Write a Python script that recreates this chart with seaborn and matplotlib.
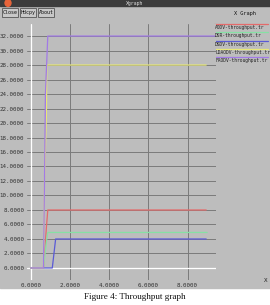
import matplotlib
matplotlib.use("Agg")
import matplotlib.pyplot as plt
import seaborn as sns
import pandas as pd
from matplotlib.patches import Rectangle, Circle
from matplotlib.lines import Line2D

# ---------------------------------------------------------------------------
# Data
# ---------------------------------------------------------------------------
series_names = [
    "AODV-throughput.tr",
    "DSR-throughput.tr",
    "DSDV-throughput.tr",
    "LDAODV-throughput.tr",
    "FAODV-throughput.tr",
]
series_colors = ["#e46a6a", "#86e0a4", "#5a5ad6", "#e8e878", "#a27ae6"]

aodv_t = [0.0, 0.65, 0.80, 0.87, 8.95]
aodv_y = [0.0, 0.0, 5.6, 8.0, 8.0]

dsr_t = [0.0, 0.65, 0.80, 0.87, 9.0]
dsr_y = [0.0, 0.0, 3.6, 4.9, 4.9]

dsdv_t = [0.0, 1.10, 1.27, 8.95]
dsdv_y = [0.0, 0.0, 4.0, 4.0]

ldaodv_t = [0.0, 0.65, 0.70, 0.80, 0.82, 8.95]
ldaodv_y = [0.0, 0.0, 12.0, 21.0, 28.0, 28.0]

faodv_t = [0.0, 0.65, 0.72, 0.75, 0.87, 9.4]
faodv_y = [0.0, 0.0, 16.0, 24.0, 32.0, 32.0]

x_ticks = [0, 2, 4, 6, 8]
y_ticks = list(range(0, 33, 2))
x_tick_labels = [f"{v:.4f}" for v in x_ticks]
y_tick_labels = [f"{v:.4f}" for v in y_ticks]

caption = "Figure 4: Throughput graph"

# ---------------------------------------------------------------------------
# Build long table
# ---------------------------------------------------------------------------
frames = []
for name, t, y in zip(series_names,
                      [aodv_t, dsr_t, dsdv_t, ldaodv_t, faodv_t],
                      [aodv_y, dsr_y, dsdv_y, ldaodv_y, faodv_y]):
    frames.append(pd.DataFrame({"time": t, "throughput": y, "trace": name}))
df = pd.concat(frames, ignore_index=True)

# ---------------------------------------------------------------------------
# Figure
# ---------------------------------------------------------------------------
sns.set_style("white")
W, H = 270, 305
fig = plt.figure(figsize=(W / 100, H / 100), dpi=100)
fig.patch.set_facecolor("white")

bg = "#bdbdbd"
mono = ["DejaVu Sans Mono"]

def fx(px):
    return px / W

def fy(py):
    return 1 - py / H

# window body and title bar
fig.patches.append(Rectangle((0, fy(288)), 1, fy(6) - fy(288),
                             transform=fig.transFigure, color=bg, zorder=-2))
fig.patches.append(Rectangle((0, fy(6)), 1, fy(0) - fy(6),
                             transform=fig.transFigure, color="#3c3c3c", zorder=-2))
fig.patches.append(Circle((fx(8), fy(3)), 0.011, transform=fig.transFigure,
                          color="#e8643a", zorder=-1))
fig.text(fx(135), fy(3), "Xgraph", fontsize=3.5, color="#dddddd",
         ha="center", va="center", family=mono)

# buttons
for label, x0 in [("Close", 2), ("Hdcpy", 20), ("About", 38)]:
    fig.patches.append(Rectangle((fx(x0), fy(17)), fx(16), fy(8) - fy(17),
                                 transform=fig.transFigure, facecolor="#c8c8c8",
                                 edgecolor="#555555", lw=0.6, zorder=-1))
    fig.text(fx(x0 + 8), fy(12.5), label, fontsize=3.6, ha="center",
             va="center", family=mono, color="#111111")
fig.text(fx(245), fy(14), "X Graph", fontsize=3.8, ha="center", va="center",
         family=mono, color="#111111")

# plot area
ax = fig.add_axes([fx(27), fy(280), fx(216) - fx(27), fy(24) - fy(280)])
ax.set_zorder(2)
ax.set_facecolor(bg)

for name, color in zip(series_names, series_colors):
    sub = df[df["trace"] == name]
    sns.lineplot(data=sub, x="time", y="throughput", color=color, sort=False,
                 estimator=None, lw=0.9, ax=ax, zorder=3)

ax.set_xlim(-0.19, 9.45)
ax.set_ylim(-1.66, 33.66)
ax.set_xticks(x_ticks)
ax.set_xticklabels(x_tick_labels)
ax.set_yticks(y_ticks)
ax.set_yticklabels(y_tick_labels)
ax.tick_params(axis="both", length=0, labelsize=4.2, colors="#333333", pad=2)
for lab in ax.get_xticklabels() + ax.get_yticklabels():
    lab.set_family(mono)
ax.grid(True, color="#7a7a7a", lw=0.7, zorder=1)
ax.set_axisbelow(True)
ax.axhline(0, color="white", lw=0.9, zorder=2)
ax.axvline(0, color="white", lw=0.9, zorder=2)
for s in ax.spines.values():
    s.set_visible(False)
ax.set_xlabel("")
ax.set_ylabel("")

fig.text(fx(266), fy(280), "X", fontsize=4.2, ha="center", va="center",
         family=mono, color="#222222")

# xgraph-style legend: coloured line above each label
for i, (name, color) in enumerate(zip(series_names, series_colors)):
    ly = 24 + 8.3 * i
    fig.add_artist(Line2D([fx(214), fx(268)], [fy(ly), fy(ly)],
                          transform=fig.transFigure, color=color, lw=0.9))
    fig.text(fx(215), fy(ly + 3.5), name, fontsize=3.3, ha="left",
             va="center", family=mono, color="#222222")

fig.text(0.5, fy(297), caption, fontsize=6.6, ha="center", va="center",
         family=["Liberation Serif"], color="#111111")

fig.savefig("out.png", dpi=100)
